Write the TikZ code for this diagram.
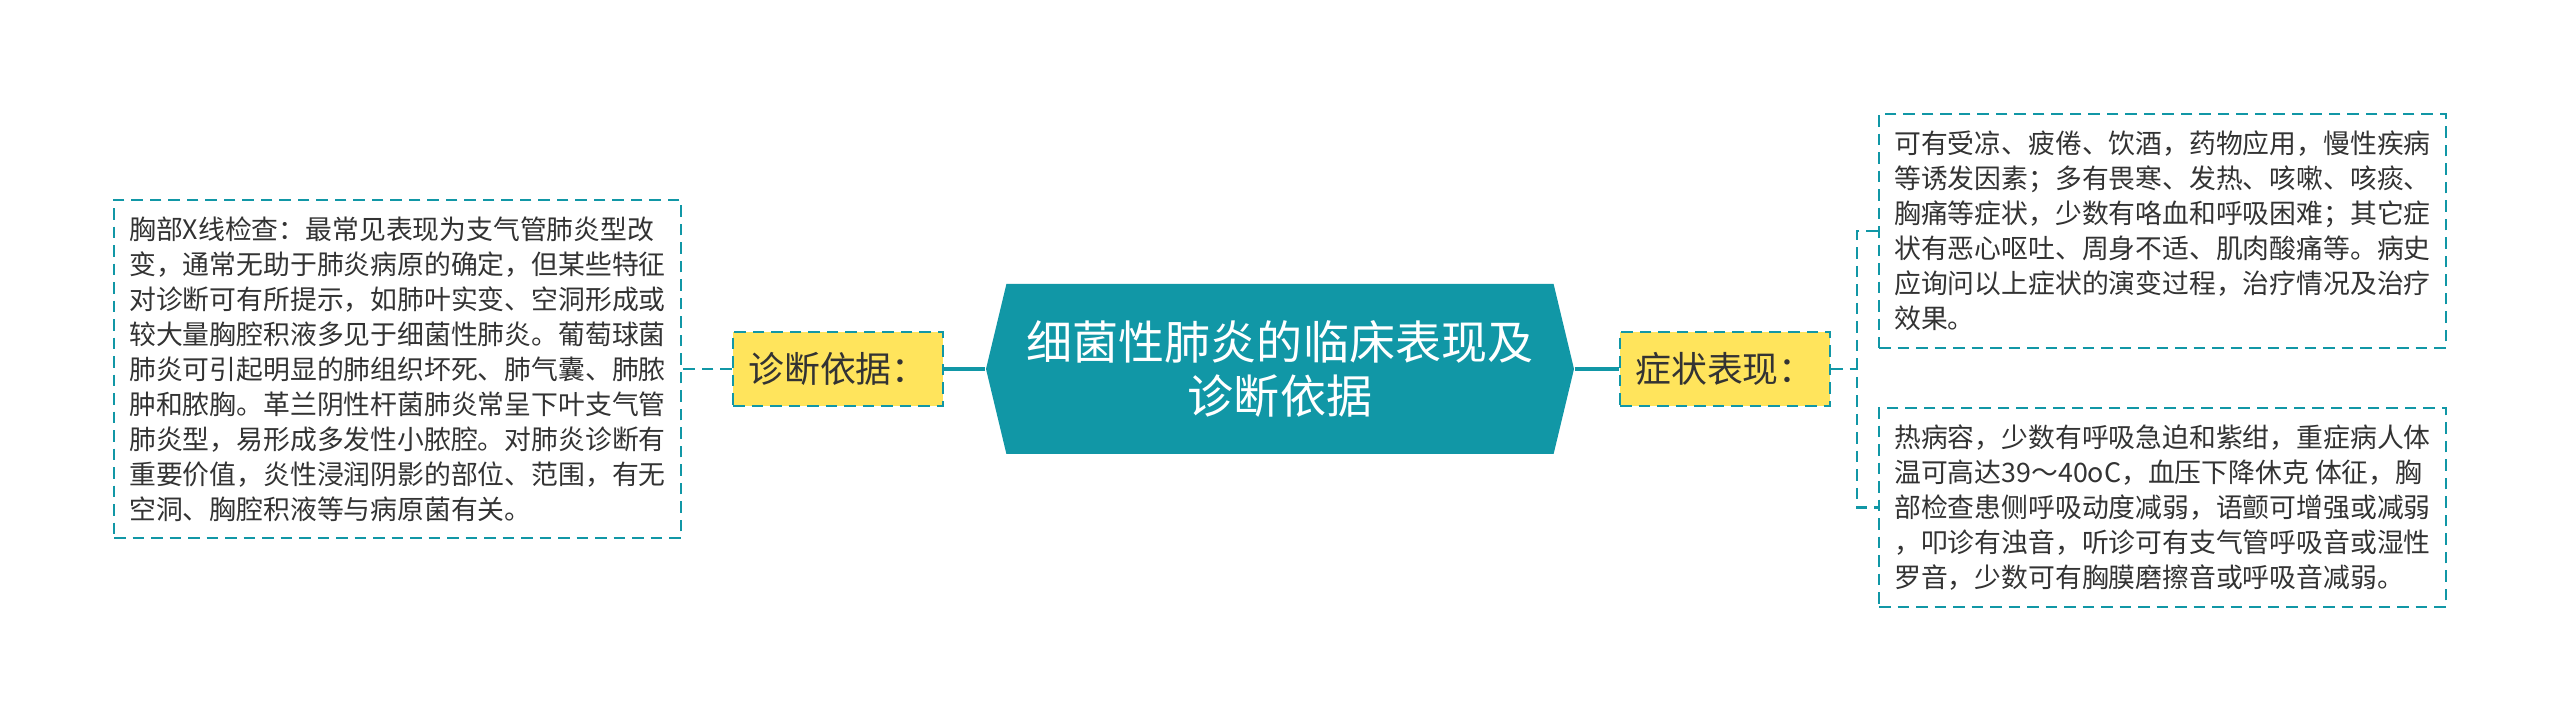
\documentclass[tikz,border=0pt]{standalone}
\usepackage{fontspec}
\setmainfont{Noto Sans CJK SC}
\usepackage{xcolor}
\usepackage{tikz}
\usetikzlibrary{shapes,arrows,positioning,calc}

\definecolor{mapteal}{RGB}{17,151,166}
\definecolor{mapyellow}{RGB}{255,228,92}
\definecolor{maptext}{RGB}{51,51,51}

\tikzset{
    link/.style={draw=mapteal, line width=0.65pt, dash pattern=on 0.115cm off 0.07cm},
    trunk/.style={draw=mapteal, line width=1pt},
    tagbox/.style={link, fill=mapyellow, text=maptext, minimum width=2.10cm, minimum height=0.74cm,
        inner sep=0pt, font=\fontsize{10.2pt}{12pt}\selectfont},
    textbox/.style={link, text=maptext, minimum width=5.67cm, inner xsep=0.14cm, align=left,
        font=\fontsize{7.63pt}{9.95pt}\selectfont}
}

\begin{document}
\begin{tikzpicture}
    \fill[white] (0,0) rectangle (25.6,-7.23);
    \useasboundingbox (0,0) rectangle (25.6,-7.23);

    % root
    \node[shape=signal, signal to=west and east, signal pointer angle=153, fill=mapteal, text=white,
        minimum width=5.88cm, minimum height=1.70cm, inner sep=0pt, align=center,
        font=\fontsize{13.1pt}{15.6pt}\selectfont] (root) at (12.80,-3.69) {细菌性肺炎的临床表现及\\诊断依据};

    % left branch
    \node[tagbox] (diag) at (8.38,-3.69) {诊断依据：};
    \node[textbox, minimum height=3.38cm] (xray) at (3.975,-3.69) {胸部X线检查：最常见表现为支气管肺炎型改\\
        变，通常无助于肺炎病原的确定，但某些特征\\
        对诊断可有所提示，如肺叶实变、空洞形成或\\
        较大量胸腔积液多见于细菌性肺炎。葡萄球菌\\
        肺炎可引起明显的肺组织坏死、肺气囊、肺脓\\
        肿和脓胸。革兰阴性杆菌肺炎常呈下叶支气管\\
        肺炎型，易形成多发性小脓腔。对肺炎诊断有\\
        重要价值，炎性浸润阴影的部位、范围，有无\\
        空洞、胸腔积液等与病原菌有关。};

    % right branch
    \node[tagbox] (sym) at (17.25,-3.69) {症状表现：};
    \node[textbox, minimum height=2.34cm] (cause) at (21.625,-2.31) {可有受凉、疲倦、饮酒，药物应用，慢性疾病\\
        等诱发因素；多有畏寒、发热、咳嗽、咳痰、\\
        胸痛等症状，少数有咯血和呼吸困难；其它症\\
        状有恶心呕吐、周身不适、肌肉酸痛等。病史\\
        应询问以上症状的演变过程，治疗情况及治疗\\
        效果。};
    \node[textbox, minimum height=1.99cm] (sign) at (21.625,-5.075) {热病容，少数有呼吸急迫和紫绀，重症病人体\\
        温可高达39～40oC，血压下降休克 体征，胸\\
        部检查患侧呼吸动度减弱，语颤可增强或减弱\\
        ，叩诊有浊音，听诊可有支气管呼吸音或湿性\\
        罗音，少数可有胸膜磨擦音或呼吸音减弱。};

    % connectors
    \draw[trunk] (diag.east) -- (root.west);
    \draw[trunk] (root.east) -- (sym.west);
    \draw[link] (diag.west) -- (xray.east);
    \coordinate (fork) at ($(sym.east)+(0.26,0)$);
    \draw[link] (sym.east) -- (fork);
    \draw[link] (cause.west) -| (fork) |- (sign.west);
\end{tikzpicture}
\end{document}
